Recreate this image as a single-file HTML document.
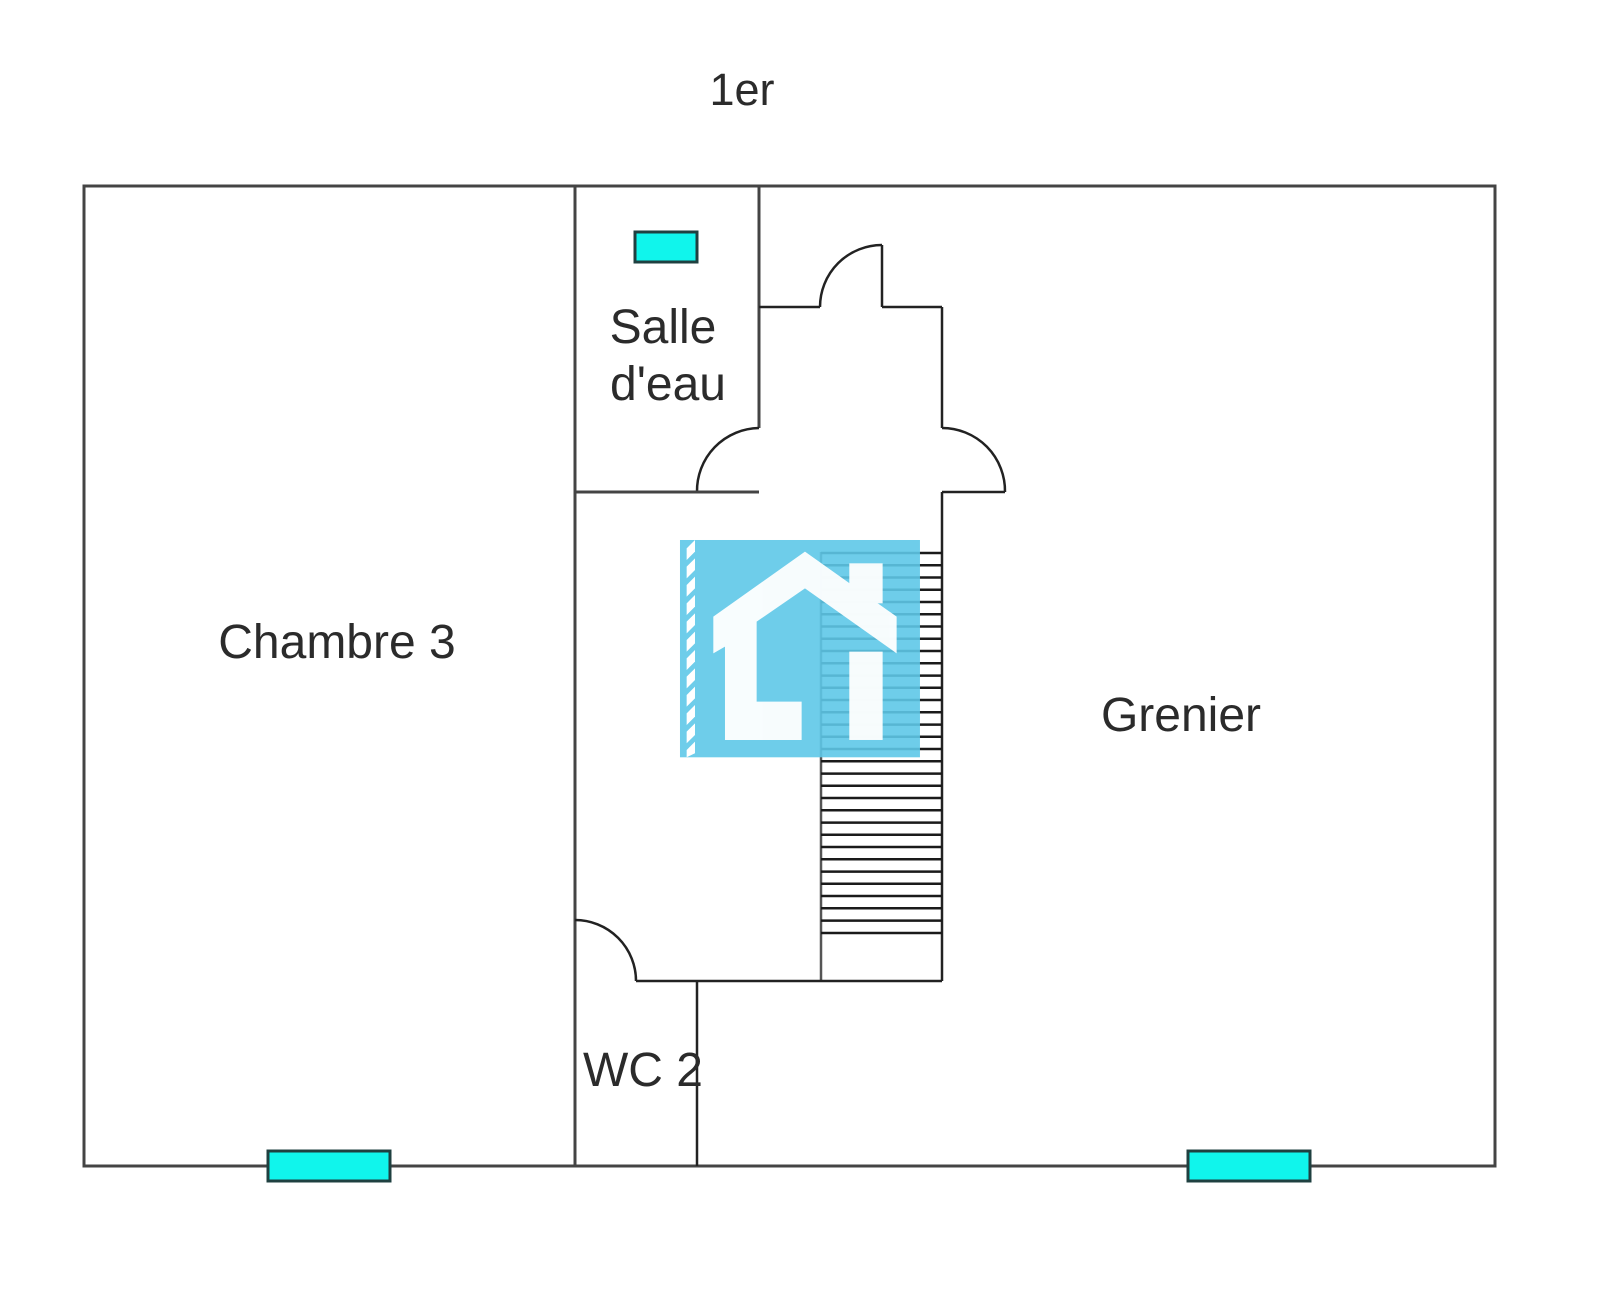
<!DOCTYPE html>
<html><head><meta charset="utf-8"><style>
html,body{margin:0;padding:0;background:#fff;}
svg{display:block;}
text{font-family:"Liberation Sans",Arial,sans-serif;fill:#2b2b2b;}
</style></head><body>
<svg width="1600" height="1299" viewBox="0 0 1600 1299" xmlns="http://www.w3.org/2000/svg">
<rect width="1600" height="1299" fill="#fff"/>
<text x="742" y="105" font-size="45" text-anchor="middle">1er</text>
<rect x="84" y="186" width="1411" height="980" fill="none" stroke="#444" stroke-width="3"/>
<g fill="none" stroke="#222" stroke-width="2.5">
<line x1="575" y1="186" x2="575" y2="1166" stroke="#444" stroke-width="3"/>
<line x1="759" y1="186" x2="759" y2="428" stroke="#444" stroke-width="3"/>
<path d="M759,428 A63,63 0 0 0 697,492"/>
<line x1="575" y1="492" x2="759" y2="492" stroke="#444" stroke-width="3"/>
<line x1="759" y1="307" x2="820" y2="307"/>
<path d="M820,307 A62,62 0 0 1 882,245"/>
<line x1="882" y1="245" x2="882" y2="307"/>
<line x1="882" y1="307" x2="942" y2="307"/>
<line x1="942" y1="307" x2="942" y2="428"/>
<path d="M942,428 A63,63 0 0 1 1005,492"/>
<line x1="942" y1="492" x2="1005" y2="492"/>
<line x1="942" y1="492" x2="942" y2="981"/>
<line x1="821" y1="552" x2="821" y2="981" stroke="#555"/>
<line x1="636" y1="981" x2="942" y2="981"/>
<path d="M575,920 A61,61 0 0 1 636,981"/>
<line x1="697" y1="981" x2="697" y2="1166"/>
</g>
<g stroke="#1a1a1a" stroke-width="2.5">
<line x1="821" y1="553" x2="942" y2="553"/><line x1="821" y1="565.3" x2="942" y2="565.3"/><line x1="821" y1="577.5" x2="942" y2="577.5"/><line x1="821" y1="589.8" x2="942" y2="589.8"/><line x1="821" y1="602" x2="942" y2="602"/><line x1="821" y1="614.3" x2="942" y2="614.3"/><line x1="821" y1="626.5" x2="942" y2="626.5"/><line x1="821" y1="638.8" x2="942" y2="638.8"/><line x1="821" y1="651" x2="942" y2="651"/><line x1="821" y1="663.3" x2="942" y2="663.3"/><line x1="821" y1="675.6" x2="942" y2="675.6"/><line x1="821" y1="687.8" x2="942" y2="687.8"/><line x1="821" y1="700" x2="942" y2="700"/><line x1="821" y1="712.3" x2="942" y2="712.3"/><line x1="821" y1="724.6" x2="942" y2="724.6"/><line x1="821" y1="736.8" x2="942" y2="736.8"/><line x1="821" y1="749" x2="942" y2="749"/><line x1="821" y1="761.3" x2="942" y2="761.3"/><line x1="821" y1="773.6" x2="942" y2="773.6"/><line x1="821" y1="785.8" x2="942" y2="785.8"/><line x1="821" y1="798" x2="942" y2="798"/><line x1="821" y1="810.3" x2="942" y2="810.3"/><line x1="821" y1="822.6" x2="942" y2="822.6"/><line x1="821" y1="834.8" x2="942" y2="834.8"/><line x1="821" y1="847" x2="942" y2="847"/><line x1="821" y1="859.3" x2="942" y2="859.3"/><line x1="821" y1="871.6" x2="942" y2="871.6"/><line x1="821" y1="883.8" x2="942" y2="883.8"/><line x1="821" y1="896" x2="942" y2="896"/><line x1="821" y1="908.3" x2="942" y2="908.3"/><line x1="821" y1="920.6" x2="942" y2="920.6"/><line x1="821" y1="933" x2="942" y2="933"/>
</g>
<g fill="#10f5ec" stroke="#1f4040" stroke-width="3">
<rect x="635" y="232" width="62" height="30"/>
<rect x="268" y="1151" width="122" height="30"/>
<rect x="1188" y="1151" width="122" height="30"/>
</g>
<text x="663" y="343" font-size="48" text-anchor="middle">Salle</text>
<text x="668" y="400" font-size="48" text-anchor="middle">d'eau</text>
<text x="337" y="658" font-size="48" text-anchor="middle">Chambre 3</text>
<text x="1181" y="731" font-size="48" text-anchor="middle">Grenier</text>
<text x="643" y="1086" font-size="48" text-anchor="middle">WC 2</text>
<g transform="translate(560,520) scale(0.3333)">
<rect x="360" y="60" width="720" height="652" fill="#5ec8e8" opacity="0.9"/>
<g fill="#fff">
<polygon points="380,85 405,60 405,95 380,120"/>
<polygon points="380,140 405,115 405,150 380,175"/>
<polygon points="380,195 405,170 405,205 380,230"/>
<polygon points="380,250 405,225 405,260 380,285"/>
<polygon points="380,305 405,280 405,315 380,340"/>
<polygon points="380,360 405,335 405,370 380,395"/>
<polygon points="380,415 405,390 405,425 380,450"/>
<polygon points="380,470 405,445 405,480 380,505"/>
<polygon points="380,525 405,500 405,535 380,560"/>
<polygon points="380,580 405,555 405,590 380,615"/>
<polygon points="380,635 405,610 405,645 380,670"/>
<polygon points="380,690 405,665 405,700 380,712"/>
</g>
<g fill="#fff" opacity="0.95">
<polygon points="735,95 1010,290 1010,400 735,205 590,305 590,545 725,545 725,660 495,660 495,380 460,400 460,290"/>
<rect x="868" y="130" width="100" height="120"/>
<rect x="868" y="395" width="100" height="265"/>
</g>
</g>
</svg>
</body></html>
